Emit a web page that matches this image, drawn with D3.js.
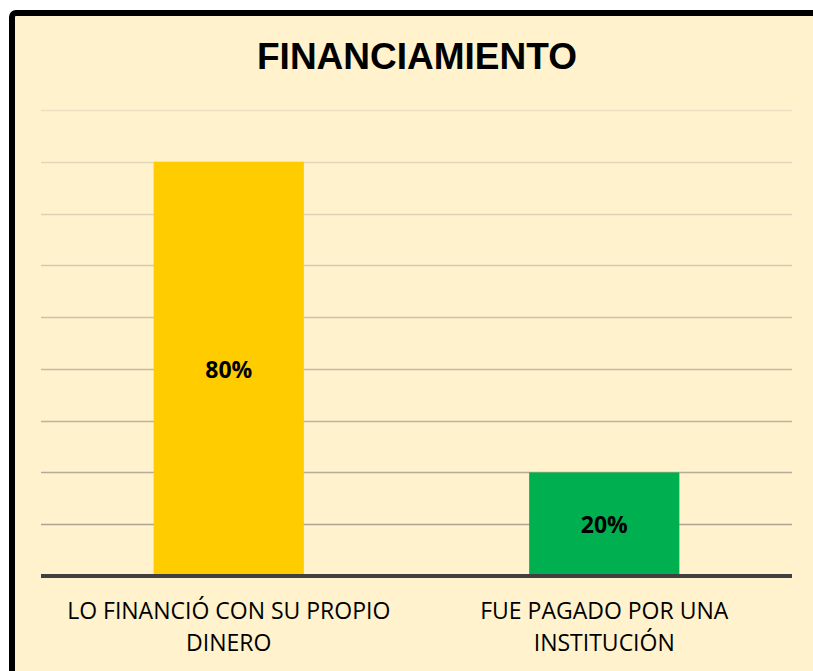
<!DOCTYPE html>
<html>
<head>
<meta charset="utf-8">
<title>Financiamiento</title>
<script src="https://d3js.org/d3.v7.min.js"></script>
<style>
  body { margin: 0; background: #ffffff; }
  svg { display: block; }
</style>
</head>
<body>
<div id="chart"></div>
<script>
  // chart data
  categories = ["LO FINANCIÓ CON SU PROPIO DINERO", "FUE PAGADO POR UNA INSTITUCIÓN"];
  label_lines = [["LO FINANCIÓ CON SU PROPIO", "DINERO"], ["FUE PAGADO POR UNA", "INSTITUCIÓN"]];
  values = [0.8, 0.2];
  bar_colors = ["#FFCC00", "#00B050"];
  y_ticks = [0, 0.1, 0.2, 0.3, 0.4, 0.5, 0.6, 0.7, 0.8, 0.9];
  chart_title = "FINANCIAMIENTO";

  width = 813;
  height = 671;
  plot = { left: 41, right: 792, top: 110, bottom: 576 };

  svg = d3.select("#chart")
    .append("svg")
      .attr("width", width)
      .attr("height", height);

  // frame
  svg.append("rect")
    .attr("x", 12).attr("y", 13)
    .attr("width", 820).attr("height", 700)
    .attr("rx", 4)
    .attr("fill", "#FFF2CC")
    .attr("stroke", "#000")
    .attr("stroke-width", 6);

  svg.append("text")
    .attr("x", 417)
    .attr("y", 69)
    .attr("text-anchor", "middle")
    .attr("font-family", "Liberation Sans, Arial, sans-serif")
    .attr("font-weight", "bold")
    .attr("font-size", 37)
    .attr("fill", "#000")
    .text(chart_title);

  x = d3.scaleBand()
    .domain(categories)
    .range([plot.left, plot.right])
    .paddingInner(0.6)
    .paddingOuter(0.3);

  y = d3.scaleLinear()
    .domain([0, 0.9])
    .range([plot.bottom, plot.top]);

  // gridlines get darker towards the bottom
  grid_color = d3.interpolateRgb("#a49e8b", "#ebdfc5");
  svg.append("g")
    .selectAll("line")
    .data(y_ticks.filter(d => d > 0))
    .join("line")
      .attr("x1", plot.left)
      .attr("x2", plot.right)
      .attr("y1", d => Math.round(y(d)) + 0.5)
      .attr("y2", d => Math.round(y(d)) + 0.5)
      .attr("stroke", d => grid_color(d / 0.9))
      .attr("stroke-width", 1.5);

  svg.append("g")
    .selectAll("rect")
    .data(values)
    .join("rect")
      .attr("x", (d, i) => x(categories[i]))
      .attr("y", d => y(d))
      .attr("width", x.bandwidth())
      .attr("height", d => y(0) - y(d))
      .attr("fill", (d, i) => bar_colors[i]);

  // axis baseline
  svg.append("line")
    .attr("x1", plot.left)
    .attr("x2", plot.right)
    .attr("y1", y(0))
    .attr("y2", y(0))
    .attr("stroke", "#404040")
    .attr("stroke-width", 4);

  svg.append("g")
    .selectAll("text")
    .data(values)
    .join("text")
      .attr("x", (d, i) => x(categories[i]) + x.bandwidth() / 2)
      .attr("y", d => (y(d) + y(0)) / 2 + 9)
      .attr("text-anchor", "middle")
      .attr("font-family", "Open Sans, Noto Sans, sans-serif")
      .attr("font-weight", "bold")
      .attr("font-size", 23)
      .attr("fill", "#000")
      .text(d => d3.format(".0%")(d));

  labels = svg.append("g")
    .selectAll("text")
    .data(categories)
    .join("text")
      .attr("text-anchor", "middle")
      .attr("font-family", "Open Sans, Noto Sans, sans-serif")
      .attr("font-size", 23)
      .attr("fill", "#000");

  labels.each(function(d, i) {
    cx = x(d) + x.bandwidth() / 2;
    d3.select(this).selectAll("tspan")
      .data(label_lines[i])
      .join("tspan")
        .attr("x", cx)
        .attr("y", (t, j) => 619 + j * 32)
        .text(t => t);
  });
</script>
</body>
</html>
